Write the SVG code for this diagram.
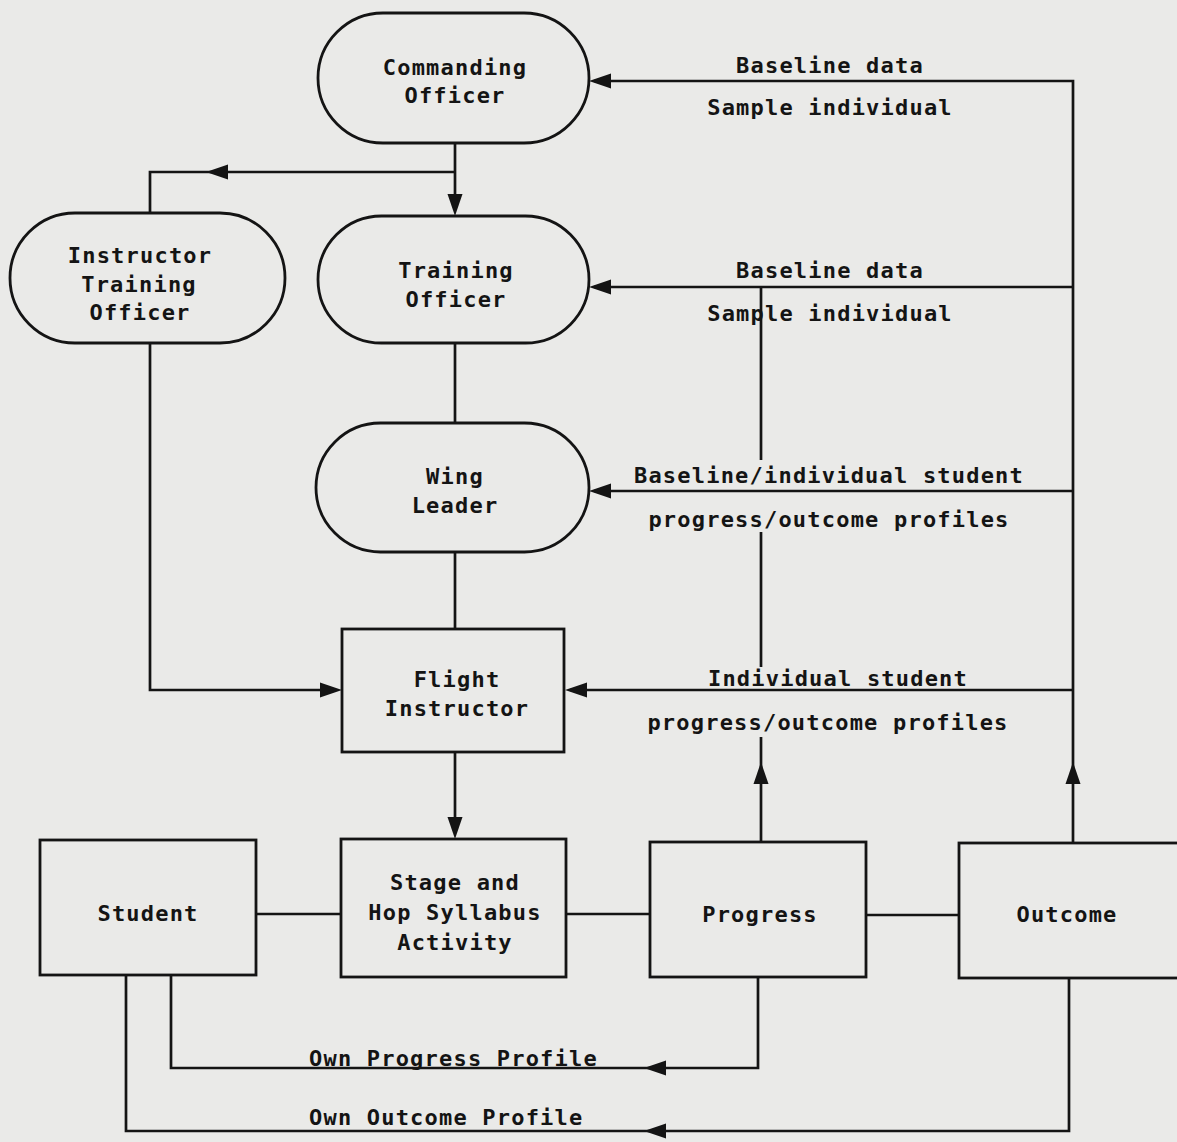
<svg xmlns="http://www.w3.org/2000/svg" xmlns:xlink="http://www.w3.org/1999/xlink" width="1177" height="1142" viewBox="0 0 1177 1142">
<style>
.bg{fill:#eaeae8}
.node{fill:none;stroke:#141414;stroke-width:2.8}
.ln{fill:none;stroke:#141414;stroke-width:2.7}
.t{font-family:"DejaVu Sans Mono","Liberation Mono",monospace;font-size:22px;font-weight:bold;fill:#141414;letter-spacing:1.2px;text-anchor:middle}
.ts{text-anchor:start}
</style>
<defs>
<path id="ah" d="M0,0 L-22,-7.5 L-22,7.5 Z" fill="#141414"/>
</defs>
<rect class="bg" x="0" y="0" width="1177" height="1142"/>

<g id="commanding-officer">
<rect class="node" x="318" y="13" width="271" height="130" rx="65" ry="65"/>
<text class="t" x="455" y="75">Commanding</text>
<text class="t" x="455" y="103">Officer</text>
</g>
<g id="instructor-training-officer">
<rect class="node" x="10" y="213" width="275" height="130" rx="65" ry="65"/>
<text class="t" x="140" y="263">Instructor</text>
<text class="t" x="139" y="292">Training</text>
<text class="t" x="140" y="320">Officer</text>
</g>
<g id="training-officer">
<rect class="node" x="318" y="216" width="271" height="127" rx="63.5" ry="63.5"/>
<text class="t" x="456" y="278">Training</text>
<text class="t" x="456" y="307">Officer</text>
</g>
<g id="wing-leader">
<rect class="node" x="316" y="423" width="273" height="129" rx="64.5" ry="64.5"/>
<text class="t" x="455" y="484">Wing</text>
<text class="t" x="455" y="513">Leader</text>
</g>
<g id="flight-instructor">
<rect class="node" x="342" y="629" width="222" height="123"/>
<text class="t" x="457" y="687">Flight</text>
<text class="t" x="457" y="716">Instructor</text>
</g>
<g id="student">
<rect class="node" x="40" y="840" width="216" height="135"/>
<text class="t" x="148" y="921">Student</text>
</g>
<g id="stage-hop">
<rect class="node" x="341" y="839" width="225" height="138"/>
<text class="t" x="455" y="890">Stage and</text>
<text class="t" x="455" y="920">Hop Syllabus</text>
<text class="t" x="455" y="950">Activity</text>
</g>
<g id="progress">
<rect class="node" x="650" y="842" width="216" height="135"/>
<text class="t" x="760" y="922">Progress</text>
</g>
<g id="outcome">
<rect class="node" x="959" y="843" width="240" height="135"/>
<text class="t" x="1067" y="922">Outcome</text>
</g>

<g id="connectors">
<path class="ln" d="M455,143 V210"/>
<path class="ln" d="M455,172 H150 V213"/>
<path class="ln" d="M150,343 V690 H336"/>
<path class="ln" d="M455,343 V423"/>
<path class="ln" d="M455,552 V629"/>
<path class="ln" d="M455,752 V833"/>
<path class="ln" d="M256,914 H341"/>
<path class="ln" d="M566,914 H650"/>
<path class="ln" d="M866,915 H959"/>
<path class="ln" d="M1073,843 V81 H594"/>
<path class="ln" d="M1073,287 H594"/>
<path class="ln" d="M1073,491 H594"/>
<path class="ln" d="M1073,690 H570"/>
<path class="ln" d="M761,287 V460"/>
<path class="ln" d="M761,532 V667"/>
<path class="ln" d="M761,737 V842"/>
<path class="ln" d="M758,977 V1068 H171 V975"/>
<path class="ln" d="M1069,978 V1131 H126 V975"/>
<use xlink:href="#ah" transform="translate(455,216) rotate(90)"/>
<use xlink:href="#ah" transform="translate(206,172) rotate(180)"/>
<use xlink:href="#ah" transform="translate(342,690)"/>
<use xlink:href="#ah" transform="translate(455,839) rotate(90)"/>
<use xlink:href="#ah" transform="translate(589,81) rotate(180)"/>
<use xlink:href="#ah" transform="translate(589,287) rotate(180)"/>
<use xlink:href="#ah" transform="translate(589,491) rotate(180)"/>
<use xlink:href="#ah" transform="translate(565,690) rotate(180)"/>
<use xlink:href="#ah" transform="translate(761,762) rotate(-90)"/>
<use xlink:href="#ah" transform="translate(1073,762) rotate(-90)"/>
<use xlink:href="#ah" transform="translate(644,1068) rotate(180)"/>
<use xlink:href="#ah" transform="translate(644,1131) rotate(180)"/>
</g>

<g id="labels">
<text class="t" x="830" y="73">Baseline data</text>
<text class="t" x="830" y="115">Sample individual</text>
<text class="t" x="830" y="278">Baseline data</text>
<text class="t" x="830" y="321">Sample individual</text>
<text class="t" x="829" y="483">Baseline/individual student</text>
<text class="t" x="829" y="527">progress/outcome profiles</text>
<text class="t" x="838" y="686">Individual student</text>
<text class="t" x="828" y="730">progress/outcome profiles</text>
<text class="t ts" x="309" y="1066">Own Progress Profile</text>
<text class="t ts" x="309" y="1125">Own Outcome Profile</text>
</g>
</svg>
